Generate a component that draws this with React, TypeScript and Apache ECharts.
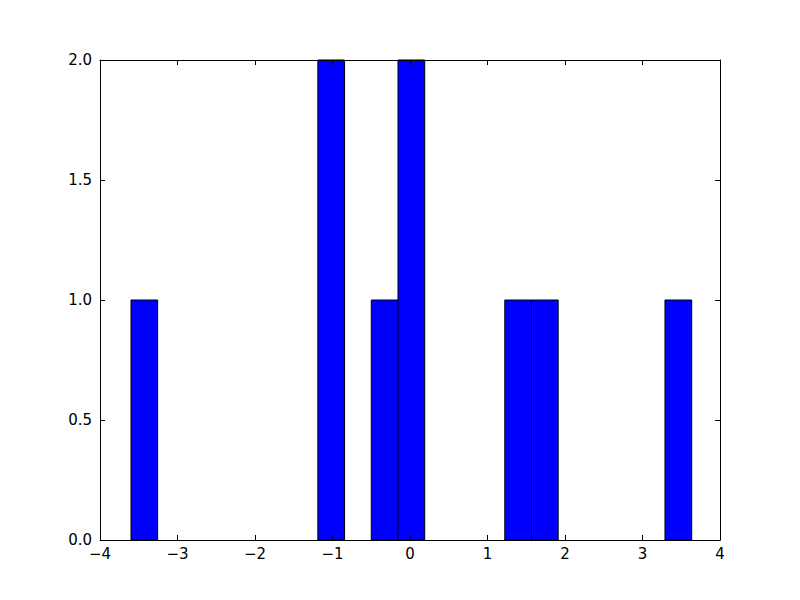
import React, { useEffect, useRef } from "react";
import * as echarts from "echarts";

const binEdges = [
  -3.6, -3.256, -2.911, -2.567, -2.222, -1.878, -1.533, -1.189, -0.844, -0.5, -0.155,
  0.19, 0.534, 0.879, 1.223, 1.568, 1.912, 2.257, 2.601, 2.946, 3.29, 3.635,
];
const counts = [1, 0, 0, 0, 0, 0, 0, 2, 0, 1, 2, 0, 0, 0, 1, 1, 0, 0, 0, 0, 1];
const xTicks = [-4, -3, -2, -1, 0, 1, 2, 3, 4];
const yTicks = [0, 0.5, 1, 1.5, 2];

export default function App() {
  const ref = useRef<HTMLDivElement>(null);
  useEffect(() => {
    document.body.style.margin = "0";
    const chart = echarts.init(ref.current!, null, { renderer: "svg" });
    const data = counts
      .map((c, i) => [binEdges[i], binEdges[i + 1], c])
      .filter((d) => d[2] > 0);
    const font = { fontFamily: "DejaVu Sans", fontSize: 15, color: "#000" };
    const axisLine = { show: true, onZero: false, lineStyle: { color: "#000", width: 1 } };
    const tick = { show: true, inside: true, length: 5, lineStyle: { color: "#000" } };
    chart.setOption({
      animation: false,
      backgroundColor: "#fff",
      grid: { left: 100, top: 60, width: 620, height: 480, containLabel: false },
      xAxis: [
        {
          type: "value", min: xTicks[0], max: xTicks[xTicks.length - 1], interval: 1, position: "bottom",
          axisLine, axisTick: tick, splitLine: { show: false }, z: 5,
          axisLabel: { ...font, margin: 6, formatter: (v: number) => String(v).replace("-", "\u2212") },
        },
        {
          type: "value", min: xTicks[0], max: xTicks[xTicks.length - 1], interval: 1, position: "top",
          axisLine, axisTick: tick, splitLine: { show: false }, axisLabel: { show: false }, z: 5,
        },
      ],
      yAxis: [
        {
          type: "value", min: yTicks[0], max: yTicks[yTicks.length - 1], interval: 0.5, position: "left",
          axisLine, axisTick: tick, splitLine: { show: false }, z: 5,
          axisLabel: { ...font, margin: 8, formatter: (v: number) => v.toFixed(1) },
        },
        {
          type: "value", min: yTicks[0], max: yTicks[yTicks.length - 1], interval: 0.5, position: "right",
          axisLine, axisTick: tick, splitLine: { show: false }, axisLabel: { show: false }, z: 5,
        },
      ],
      series: [
        {
          type: "custom",
          xAxisIndex: 0,
          yAxisIndex: 0,
          z: 1,
          data,
          renderItem: (params: any, api: any) => {
            const p0 = api.coord([api.value(0), api.value(2)]);
            const p1 = api.coord([api.value(1), 0]);
            return {
              type: "rect",
              shape: { x: p0[0], y: p0[1], width: p1[0] - p0[0], height: p1[1] - p0[1] },
              style: { fill: "#0000ff", stroke: "#000", lineWidth: 1 },
            };
          },
        },
      ],
    });
    return () => chart.dispose();
  }, []);
  return <div ref={ref} style={{ width: 800, height: 600 }} />;
}
